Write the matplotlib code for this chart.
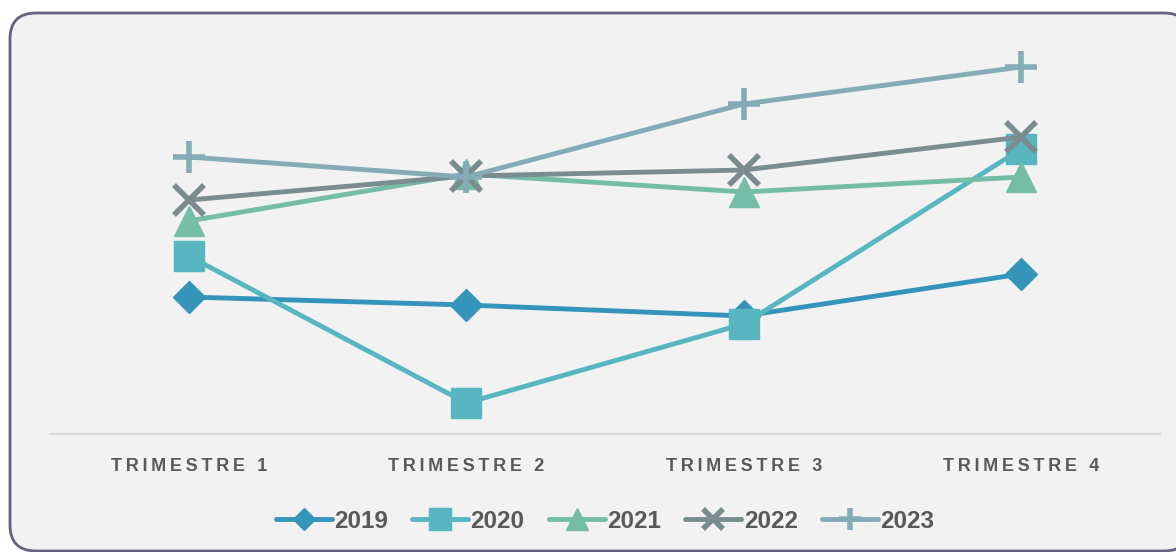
import matplotlib.pyplot as plt
from matplotlib.patches import FancyBboxPatch
from matplotlib.transforms import IdentityTransform

# Data
categories = ['TRIMESTRE 1', 'TRIMESTRE 2', 'TRIMESTRE 3', 'TRIMESTRE 4']
years = ['2019', '2020', '2021', '2022', '2023']
values_2019 = [137, 129, 118, 160]
values_2020 = [178, 31, 110, 285]
values_2021 = [213, 260, 242, 257]
values_2022 = [234, 258, 264, 297]
values_2023 = [277, 257, 330, 367]

series = [values_2019, values_2020, values_2021, values_2022, values_2023]
colors = ['#3494ba', '#58b6c0', '#75bda7', '#7a8c8e', '#84acb6']
markers = ['D', 's', '^', 'x', '+']
msizes = [16, 22, 22, 21, 23]

fig = plt.figure(figsize=(11.76, 5.52), dpi=100)
fig.patch.set_facecolor('white')

# rounded frame
frame = FancyBboxPatch((10, 1), 1180, 538, boxstyle='round,pad=0,rounding_size=26',
                       transform=IdentityTransform(), facecolor='#f2f2f2',
                       edgecolor='#65607f', linewidth=2, zorder=-5)
fig.patches.append(frame)

ax = fig.add_axes([50 / 1176, (552 - 434) / 552, 1110 / 1176, 400 / 552])
ax.set_facecolor('none')

x = range(len(categories))
for vals, name, c, m, ms in zip(series, years, colors, markers, msizes):
    mew = 4 if m in ('x', '+') else 1
    ax.plot(x, vals, color=c, linewidth=3.5, marker=m, markersize=ms,
            markerfacecolor=c, markeredgecolor=c, markeredgewidth=mew,
            label=name, solid_capstyle='round')

ax.set_xlim(-0.5, 3.5)
ax.set_ylim(0, 400)
ax.set_yticks([])
for s in ['top', 'right', 'left']:
    ax.spines[s].set_visible(False)
ax.spines['bottom'].set_color('#d9d9d9')
ax.spines['bottom'].set_linewidth(1.5)

spaced = ['\u2009'.join(c) for c in categories]
ax.set_xticks(list(x))
ax.set_xticklabels(spaced, fontsize=13, fontweight='bold', color='#595959',
                   family='Liberation Sans')
ax.tick_params(axis='x', length=0, pad=17)

leg = fig.legend(loc='center', bbox_to_anchor=(605 / 1176, 1 - 521 / 552), ncol=5,
                 frameon=False, handlelength=2.3, handletextpad=0.1,
                 columnspacing=1.0,
                 prop={'family': 'Liberation Sans', 'weight': 'bold', 'size': 17.5})
for t in leg.get_texts():
    t.set_color('#595959')
for h, ms in zip(leg.legend_handles, msizes):
    h.set_markersize(ms * 0.7)

fig.savefig('out.png', dpi=100, facecolor='white')
